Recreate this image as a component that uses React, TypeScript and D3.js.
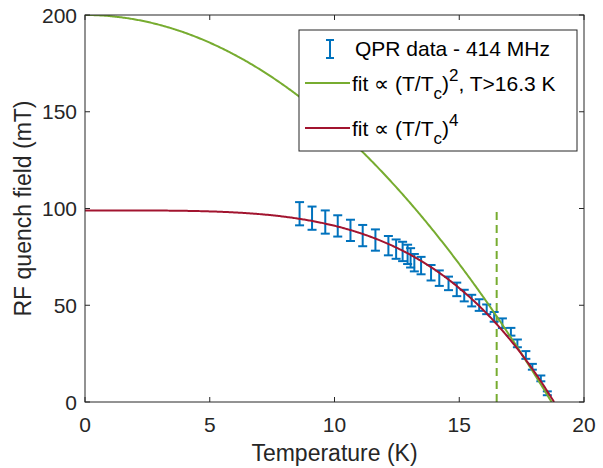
import React from "react";
import * as d3 from "d3";

// Measured data: temperature (K), quench field (mT), error (mT)
const temps = [8.6, 9.1, 9.63, 10.13, 10.64, 11.13, 11.64, 12.16, 12.47, 12.73, 12.93, 13.05, 13.2, 13.47, 13.87, 14.2, 14.57, 14.9, 15.2, 15.5, 15.8, 16.1, 16.4, 16.73, 17.07, 17.33, 17.67, 17.93, 18.27, 18.53];
const fields = [97.3, 95.0, 93.0, 91.0, 88.7, 86.0, 83.7, 80.8, 79.0, 77.8, 76.3, 74.5, 72.0, 70.5, 66.8, 64.0, 61.3, 58.2, 55.0, 52.4, 50.1, 47.9, 44.0, 40.7, 36.3, 30.3, 24.3, 18.2, 12.2, 4.5];
const errors = [6, 6, 6, 5.5, 5.5, 5.5, 5.5, 5, 5, 5, 5, 5, 4.5, 4.5, 4, 4, 3.5, 3.5, 3, 3, 3, 2.5, 2.5, 2.5, 2, 2, 2, 1.5, 1.5, 1];

// Fit parameters
const fit2B0 = 200;
const fit2Tc = 18.7;
const fit4B0 = 99;
const fit4Tc = 18.8;
const cutoffT = 16.5;
const cutoffTop = 100;

const xTicks = [0, 5, 10, 15, 20];
const yTicks = [0, 50, 100, 150, 200];

const W = 603, H = 468;
const L = 85, R = 584, T = 15, B = 402;
const FONT = "'Liberation Sans', Arial, Helvetica, sans-serif";
const AX = "#262626";
const BLUE = "#0072BD", GREEN = "#77AC30", RED = "#A2142F";

export default function App() {
  const x = d3.scaleLinear().domain([0, 20]).range([L, R]);
  const y = d3.scaleLinear().domain([0, 200]).range([B, T]);
  const line = d3.line<[number, number]>().x(d => x(d[0])).y(d => y(d[1]));

  const g2: [number, number][] = d3.range(0, 401).map(i => {
    const t = (fit2Tc * i) / 400;
    return [t, fit2B0 * (1 - (t / fit2Tc) ** 2)];
  });
  const g4: [number, number][] = d3.range(0, 401).map(i => {
    const t = (fit4Tc * i) / 400;
    return [t, fit4B0 * (1 - (t / fit4Tc) ** 4)];
  });

  const cap = 4.5;
  return (
    <svg width={W} height={H} style={{ position: "absolute", left: 0, top: 0, background: "#fff" }} fontFamily={FONT}>
      <rect x={0} y={0} width={W} height={H} fill="#fff" />
      <defs>
        <clipPath id="plot"><rect x={L} y={T} width={R - L} height={B - T} /></clipPath>
      </defs>
      {/* dashed cutoff */}
      <line x1={x(cutoffT)} x2={x(cutoffT)} y1={y(0)} y2={y(cutoffTop)} stroke={GREEN} strokeWidth={2} strokeDasharray="8,5" />
      {/* error bars */}
      <g stroke={BLUE} strokeWidth={2} fill="none">
        {temps.map((t, i) => {
          const cx = x(t), y1 = y(fields[i] - errors[i]), y2 = y(fields[i] + errors[i]);
          return (
            <g key={i}>
              <line x1={cx} x2={cx} y1={y1} y2={y2} />
              <line x1={cx - cap} x2={cx + cap} y1={y1} y2={y1} />
              <line x1={cx - cap} x2={cx + cap} y1={y2} y2={y2} />
            </g>
          );
        })}
      </g>
      <g clipPath="url(#plot)">
        <path d={line(g2) || ""} fill="none" stroke={GREEN} strokeWidth={2} />
        <path d={line(g4) || ""} fill="none" stroke={RED} strokeWidth={2} />
      </g>
      {/* axes box */}
      <rect x={L} y={T} width={R - L} height={B - T} fill="none" stroke={AX} strokeWidth={1} />
      {xTicks.map(v => (
        <g key={"x" + v}>
          <line x1={x(v)} x2={x(v)} y1={B} y2={B - 5} stroke={AX} />
          <line x1={x(v)} x2={x(v)} y1={T} y2={T + 5} stroke={AX} />
          <text x={x(v)} y={B + 30} fontSize={21} textAnchor="middle" fill={AX}>{v}</text>
        </g>
      ))}
      {yTicks.map(v => (
        <g key={"y" + v}>
          <line x1={L} x2={L + 5} y1={y(v)} y2={y(v)} stroke={AX} />
          <line x1={R} x2={R - 5} y1={y(v)} y2={y(v)} stroke={AX} />
          <text x={L - 8} y={y(v) + 7.5} fontSize={21} textAnchor="end" fill={AX}>{v}</text>
        </g>
      ))}
      <text x={(L + R) / 2} y={461} fontSize={23} textAnchor="middle" fill={AX}>Temperature (K)</text>
      <text transform={`translate(31,${(T + B) / 2}) rotate(-90)`} fontSize={23} textAnchor="middle" fill={AX}>RF quench field (mT)</text>
      {/* legend */}
      <g>
        <rect x={299} y={30} width={278} height={121} fill="#fff" stroke={AX} strokeWidth={1} />
        <g stroke={BLUE} strokeWidth={2}>
          <line x1={330} x2={330} y1={40} y2={58} />
          <line x1={326} x2={334} y1={40} y2={40} />
          <line x1={326} x2={334} y1={58} y2={58} />
        </g>
        <text x={355} y={56} fontSize={21} fill="#000">QPR data - 414 MHz</text>
        <line x1={305} x2={350} y1={83} y2={83} stroke={GREEN} strokeWidth={2} />
        <text x={352} y={91} fontSize={21} fill="#000">
          fit ∝ (T/T<tspan fontSize={17} dy={8}>c</tspan><tspan dy={-8}>)</tspan><tspan fontSize={17} dy={-10}>2</tspan><tspan dy={10}>, T&gt;16.3 K</tspan>
        </text>
        <line x1={305} x2={350} y1={128} y2={128} stroke={RED} strokeWidth={2} />
        <text x={352} y={136} fontSize={21} fill="#000">
          fit ∝ (T/T<tspan fontSize={17} dy={8}>c</tspan><tspan dy={-8}>)</tspan><tspan fontSize={17} dy={-10}>4</tspan>
        </text>
      </g>
    </svg>
  );
}
